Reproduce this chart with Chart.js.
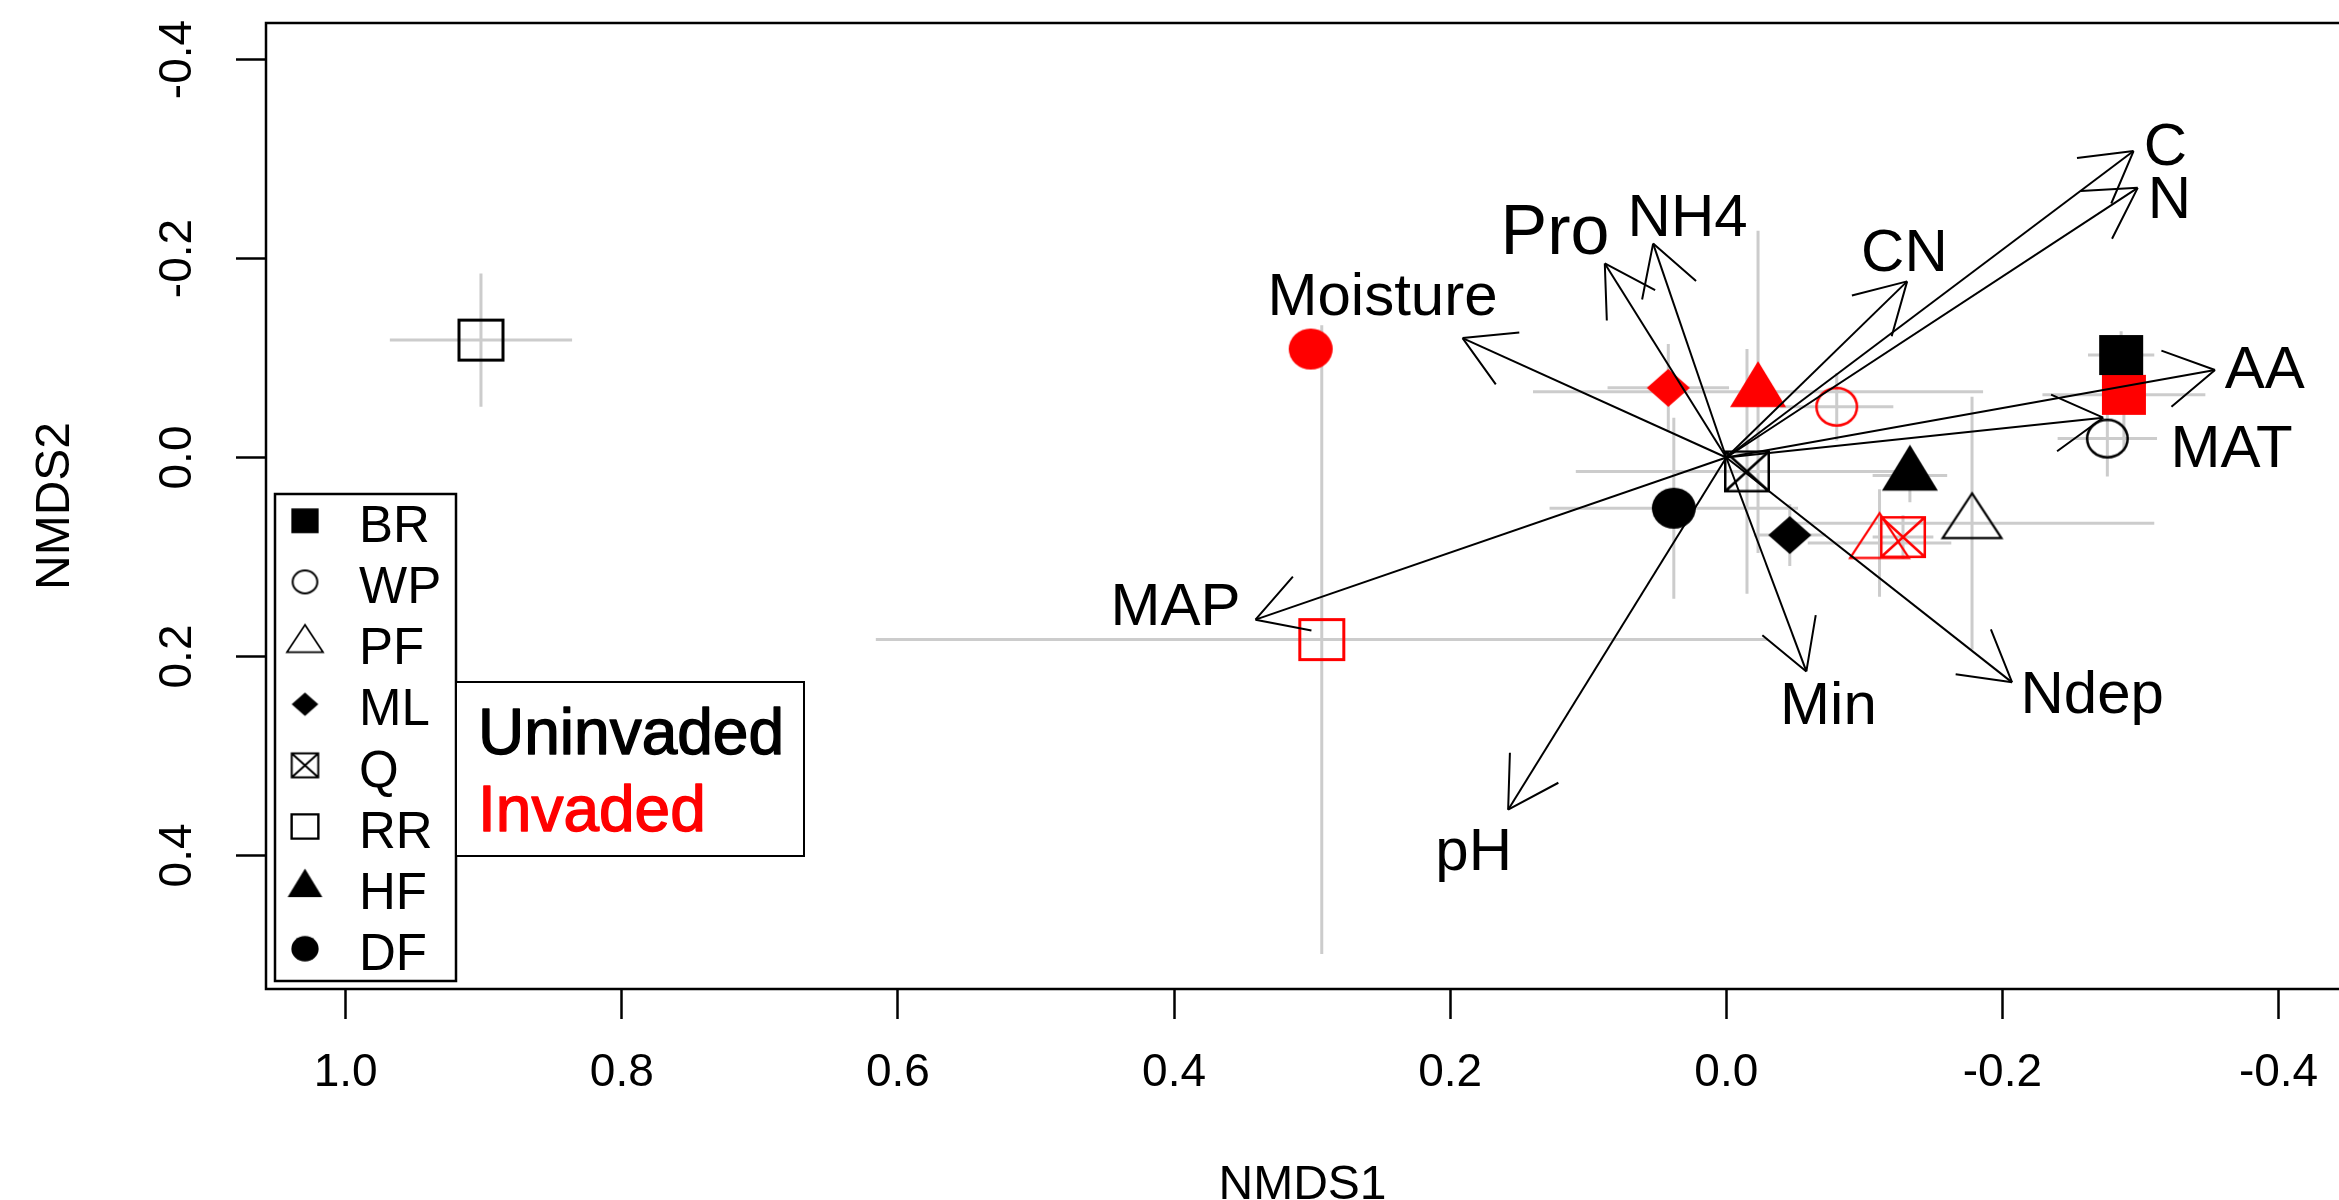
<!DOCTYPE html>
<html>
<head>
<meta charset="utf-8">
<title>NMDS ordination</title>
<script src="https://cdn.jsdelivr.net/npm/chart.js@4.4.1/dist/chart.umd.min.js"></script>
<style>
  html, body { margin: 0; padding: 0; background: #fff; overflow: hidden; }
  canvas { display: block; }
</style>
</head>
<body>
<canvas id="Chart" width="2339" height="1200"></canvas>
<script>
// Sites, in legend order
const sites = ['BR', 'WP', 'PF', 'ML', 'Q', 'RR', 'HF', 'DF'];
const groups = ['Uninvaded', 'Invaded'];

// Site means on NMDS1 / NMDS2, with standard errors
const uninvadedX = [-0.286, -0.276, -0.178, -0.046, -0.015, 0.902, -0.133, 0.038];
const uninvadedY = [-0.103, -0.019, 0.066, 0.078, 0.014, -0.118, 0.018, 0.051];
const uninvadedSeX = [0.024, 0.036, 0.132, 0.026, 0.124, 0.066, 0.027, 0.090];
const uninvadedSeY = [0.024, 0.038, 0.127, 0.031, 0.123, 0.067, 0.027, 0.091];

const invadedX = [-0.288, -0.080, -0.111, 0.042, -0.128, 0.293, -0.023, 0.301];
const invadedY = [-0.063, -0.051, 0.086, -0.070, 0.080, 0.183, -0.066, -0.109];
const invadedSeX = [0.059, 0.041, 0.052, 0.044, 0.022, 0.323, 0.163, 0.008];
const invadedSeY = [0.057, 0.034, 0.054, 0.044, 0.022, 0.316, 0.162, 0.008];

// Environmental fitted vectors (arrow tips) and where their labels sit
const envNames = ['C', 'N', 'CN', 'NH4', 'Pro', 'Moisture', 'AA', 'MAT', 'MAP', 'pH', 'Min', 'Ndep'];
const envX = [-0.295, -0.298, -0.131, 0.053, 0.088, 0.191, -0.354, -0.273, 0.341, 0.158, -0.058, -0.207];
const envY = [-0.308, -0.271, -0.177, -0.215, -0.195, -0.120, -0.088, -0.040, 0.163, 0.354, 0.215, 0.226];
const envLabelX = [-0.318, -0.321, -0.129, 0.028, 0.124, 0.249, -0.390, -0.366, 0.399, 0.183, -0.074, -0.265];
const envLabelY = [-0.316, -0.262, -0.209, -0.244, -0.230, -0.165, -0.091, -0.012, 0.147, 0.393, 0.246, 0.235];

// Axis ticks
const xTicks = [1.0, 0.8, 0.6, 0.4, 0.2, 0.0, -0.2, -0.4];
const yTicks = [-0.4, -0.2, 0.0, 0.2, 0.4];

const FONT = "'Liberation Sans', Arial, Helvetica, sans-serif";
Chart.defaults.font.family = FONT;
Chart.defaults.color = '#000';

const RED = '#ff0000';
const GREY = '#cccccc';

// pch-like marker shapes (pixel sizes)
const shapes = {
  BR: {kind: 'square', fill: true, w: 44, h: 40},
  WP: {kind: 'circle', fill: false, w: 43, h: 40, lw: 2.5},
  PF: {kind: 'tri', fill: false, w: 61, h: 47, lw: 2.2},
  ML: {kind: 'diamond', fill: true, w: 43, h: 38},
  Q:  {kind: 'squareX', fill: false, w: 46, h: 42, lw: 2.5},
  RR: {kind: 'square', fill: false, w: 47, h: 43, lw: 3},
  HF: {kind: 'tri', fill: true, w: 56, h: 46},
  DF: {kind: 'circle', fill: true, w: 44, h: 41}
};

function makeSymbol(spec, color, scale) {
  const w = spec.w * scale, h = spec.h * scale;
  const lw = (spec.lw || 0) * Math.max(scale, 0.8);
  const tri = spec.kind === 'tri';
  const c = document.createElement('canvas');
  c.width = Math.ceil(w + 8);
  c.height = Math.ceil((tri ? h * 4 / 3 : h) + 8);
  const g = c.getContext('2d');
  const cx = c.width / 2, cy = c.height / 2;
  const iw = spec.fill ? w : w - lw, ih = spec.fill ? h : h - lw;
  g.fillStyle = color;
  g.strokeStyle = color;
  g.lineWidth = lw;
  g.beginPath();
  if (spec.kind === 'square' || spec.kind === 'squareX') {
    g.rect(cx - iw / 2, cy - ih / 2, iw, ih);
    if (spec.kind === 'squareX') {
      g.moveTo(cx - iw / 2, cy - ih / 2); g.lineTo(cx + iw / 2, cy + ih / 2);
      g.moveTo(cx + iw / 2, cy - ih / 2); g.lineTo(cx - iw / 2, cy + ih / 2);
    }
  } else if (spec.kind === 'circle') {
    g.ellipse(cx, cy, iw / 2, ih / 2, 0, 0, Math.PI * 2);
  } else if (spec.kind === 'diamond') {
    g.moveTo(cx, cy - ih / 2); g.lineTo(cx + iw / 2, cy);
    g.lineTo(cx, cy + ih / 2); g.lineTo(cx - iw / 2, cy);
    g.closePath();
  } else if (tri) {
    // centroid at the canvas centre, like R's triangles
    g.moveTo(cx, cy - ih * 2 / 3);
    g.lineTo(cx + iw / 2, cy + ih / 3);
    g.lineTo(cx - iw / 2, cy + ih / 3);
    g.closePath();
  }
  if (spec.fill) g.fill(); else g.stroke();
  return c;
}

// error bars, one dataset per segment
function errorBars(xs, ys, sx, sy) {
  const sets = [];
  xs.forEach((x, i) => {
    const segs = [
      [{x: x - sx[i], y: ys[i]}, {x: x + sx[i], y: ys[i]}],
      [{x: x, y: ys[i] - sy[i]}, {x: x, y: ys[i] + sy[i]}]
    ];
    segs.forEach(d => sets.push({
      data: d, showLine: true, borderColor: GREY, borderWidth: 3,
      pointRadius: 0, order: 3
    }));
  });
  return sets;
}

const pointSets = [
  {
    label: groups[0],
    data: uninvadedX.map((x, i) => ({x, y: uninvadedY[i]})),
    pointStyle: sites.map(s => makeSymbol(shapes[s], '#000', 1)),
    pointRadius: 10, order: 2
  },
  {
    label: groups[1],
    data: invadedX.map((x, i) => ({x, y: invadedY[i]})),
    pointStyle: sites.map(s => makeSymbol(shapes[s], RED, 1)),
    pointRadius: 10, order: 2
  }
];

const vectorSets = envNames.map((name, i) => ({
  label: name,
  data: [{x: 0, y: 0}, {x: envX[i], y: envY[i]}],
  showLine: true, borderColor: '#000', borderWidth: 2,
  pointRadius: 0, order: 1, isVector: true
}));

const legendSymbols = sites.map(s => makeSymbol(shapes[s], '#000', 0.62));

// open arrow heads + vector labels
const vectorHeads = {
  id: 'vectorHeads',
  afterDatasetsDraw(chart) {
    const ctx = chart.ctx;
    const headLen = 57;
    ctx.save();
    ctx.strokeStyle = '#000';
    ctx.lineWidth = 2;
    chart.data.datasets.forEach((ds, i) => {
      if (!ds.isVector) return;
      const pts = chart.getDatasetMeta(i).data;
      const a = pts[0], b = pts[1];
      const ang = Math.atan2(b.y - a.y, b.x - a.x);
      ctx.beginPath();
      [-1, 1].forEach(s => {
        ctx.moveTo(b.x, b.y);
        ctx.lineTo(b.x - headLen * Math.cos(ang + s * Math.PI / 6),
                   b.y - headLen * Math.sin(ang + s * Math.PI / 6));
      });
      ctx.stroke();
    });
    const xs = chart.scales.x, ys = chart.scales.y;
    ctx.fillStyle = '#000';
    ctx.textAlign = 'center';
    ctx.textBaseline = 'alphabetic';
    envNames.forEach((name, i) => {
      const size = name === 'Pro' ? 70 : 60;
      ctx.font = size + 'px ' + FONT;
      ctx.fillText(name, xs.getPixelForValue(envLabelX[i]),
                   ys.getPixelForValue(envLabelY[i]) + 0.358 * size);
    });
    ctx.restore();
  }
};

// plot frame and the two legend boxes
const frameAndLegend = {
  id: 'frameAndLegend',
  afterDraw(chart) {
    const ctx = chart.ctx;
    const a = chart.chartArea;
    ctx.save();
    ctx.strokeStyle = '#000';
    ctx.lineWidth = 2.5;
    ctx.strokeRect(a.left, a.top, a.right - a.left + 20, a.bottom - a.top);

    // site legend
    const lx = a.left + 9, ly = 494;
    ctx.fillStyle = '#fff';
    ctx.fillRect(lx, ly, 181, 487);
    ctx.strokeRect(lx, ly, 181, 487);
    ctx.fillStyle = '#000';
    ctx.font = '51px ' + FONT;
    ctx.textAlign = 'left';
    ctx.textBaseline = 'alphabetic';
    sites.forEach((s, i) => {
      const cy = 523.8 + 61.13 * i;
      const sym = legendSymbols[i];
      ctx.drawImage(sym, lx + 30 - sym.width / 2, cy - 3 - sym.height / 2);
      ctx.fillText(s, lx + 84, cy + 0.358 * 51);
    });

    // status legend, text a little heavier than the site labels
    const bx = lx + 181, by = 682;
    ctx.lineWidth = 2;
    ctx.fillStyle = '#fff';
    ctx.fillRect(bx, by, 348, 174);
    ctx.strokeRect(bx, by, 348, 174);
    ctx.font = '64px ' + FONT;
    ctx.lineWidth = 1.4;
    ctx.lineJoin = 'round';
    [[groups[0], '#000', 754], [groups[1], RED, 830.5]].forEach(([txt, col, base]) => {
      ctx.fillStyle = col;
      ctx.strokeStyle = col;
      ctx.fillText(txt, bx + 22, base);
      ctx.strokeText(txt, bx + 22, base);
    });
    ctx.restore();
  }
};

const fmt = v => Number(v).toFixed(1);

const config = {
  type: 'scatter',
  data: {
    datasets: [
      ...errorBars(uninvadedX, uninvadedY, uninvadedSeX, uninvadedSeY),
      ...errorBars(invadedX, invadedY, invadedSeX, invadedSeY),
      ...pointSets,
      ...vectorSets
    ]
  },
  options: {
    responsive: false,
    animation: false,
    events: [],
    devicePixelRatio: 1,
    layout: { autoPadding: false, padding: { top: 23, right: 0, bottom: 0, left: 0 } },
    plugins: {
      legend: { display: false },
      tooltip: { enabled: false }
    },
    scales: {
      x: {
        type: 'linear',
        reverse: true,
        min: -0.4438,
        max: 1.0577,
        afterBuildTicks: s => { s.ticks = xTicks.map(v => ({value: v})); },
        afterFit: s => { s.height = 211; s.paddingLeft = 0; s.paddingRight = 0; },
        grid: { display: true, drawOnChartArea: false, drawTicks: true, tickLength: 30, tickWidth: 2.5, tickColor: '#000' },
        border: { display: false },
        ticks: { font: { size: 46 }, color: '#000', padding: 27, maxRotation: 0, autoSkip: false, callback: fmt },
        title: { display: true, text: 'NMDS1', font: { size: 48 }, color: '#000', padding: { top: 0, bottom: -15 } }
      },
      y: {
        type: 'linear',
        reverse: true,
        min: -0.4367,
        max: 0.5342,
        afterBuildTicks: s => { s.ticks = yTicks.map(v => ({value: v})); },
        afterFit: s => { s.width = 266; s.paddingTop = 0; s.paddingBottom = 0; },
        grid: { display: true, drawOnChartArea: false, drawTicks: true, tickLength: 30, tickWidth: 2.5, tickColor: '#000' },
        border: { display: false },
        ticks: { font: { size: 46 }, color: '#000', padding: 18, minRotation: 90, maxRotation: 90, crossAlign: 'center', autoSkip: false, callback: fmt },
        title: { display: true, text: 'NMDS2', font: { size: 48 }, color: '#000', padding: { top: 27, bottom: 0 } }
      }
    }
  },
  plugins: [vectorHeads, frameAndLegend]
};

const nmdsChart = new Chart(document.getElementById('Chart'), config);
</script>
</body>
</html>
